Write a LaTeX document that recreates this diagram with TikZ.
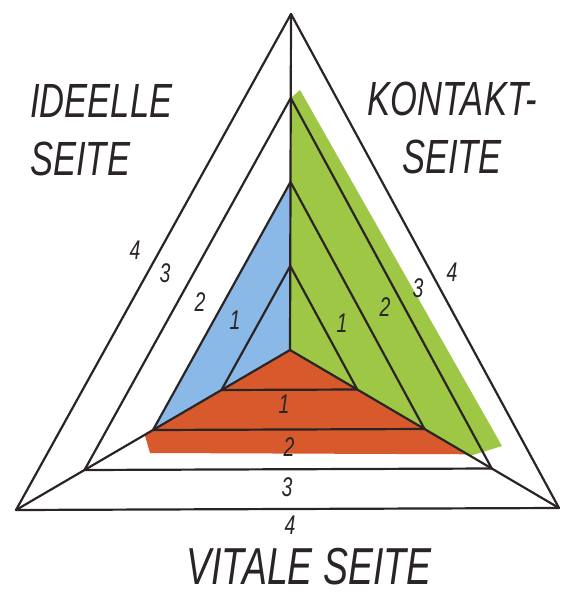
\documentclass[tikz,border=0pt]{standalone}
\usepackage{fontspec}
\newfontfamily\handfont[FakeStretch=0.72]{Liberation Sans}
\usetikzlibrary{calc}
\definecolor{seiteblue}{HTML}{8AB8E7}
\definecolor{seitegreen}{HTML}{9DC745}
\definecolor{seiteorange}{HTML}{D85A2C}
\definecolor{pencil}{HTML}{2A2424}

\begin{document}
\begin{tikzpicture}[x=1pt, y=-1pt,
    edge/.style={pencil, line width=2.2pt, line cap=round, line join=round},
    num/.style={font=\handfont\itshape\fontsize{27}{27}\selectfont, pencil, inner sep=0pt},
    side/.style={font=\handfont\itshape\fontsize{48}{58}\selectfont, pencil, inner sep=0pt}
  ]
    \useasboundingbox (0,0) rectangle (562,594);

    % corners and centre
    \coordinate (A)  at (291,14);
    \coordinate (BL) at (16,510);
    \coordinate (BR) at (559,508);
    \coordinate (C)  at (290,350);
    \foreach \k/\t in {1/0.25, 2/0.5, 3/0.75} {
      \coordinate (top\k) at ($(C)!\t!(A)$);
      \coordinate (bl\k)  at ($(C)!\t!(BL)$);
      \coordinate (br\k)  at ($(C)!\t!(BR)$);
    }

    % coloured sides
    \fill[seiteblue] (C) -- (top2) -- (bl2) -- cycle;
    \fill[seitegreen] (C) -- (top3) -- (300,90) -- (502,446)
      -- ($(C)!0.67!(BR)$) -- cycle;
    \fill[seiteorange] (C) -- ($(C)!0.53!(BL)$) -- (150,453)
      -- ($(C)!0.66!(BR)$) -- cycle;

    % outer triangle and spokes
    \draw[edge] (A) -- (BL) -- (BR) -- cycle;
    \draw[edge] (C) -- (A);
    \draw[edge] (C) -- (BL);
    \draw[edge] (C) -- (BR);

    % nested levels
    \foreach \k in {1,2,3} {
      \draw[edge] (top\k) -- (bl\k);
      \draw[edge] (top\k) -- (br\k);
      \draw[edge] (bl\k) -- (br\k);
    }

    % level numbers
    \foreach \n/\lx/\ly/\rx/\ry/\bx/\by in {1/235/320/342/323/284/404,
        2/200/302/385/307/289/447, 3/165/273/418/288/287/487,
        4/135/250/452/272/290/525} {
      \node[num] (numL\n) at (\lx,\ly) {\n};
      \node[num] (numR\n) at (\rx,\ry) {\n};
      \node[num] (numB\n) at (\bx,\by) {\n};
    }

    % side names
    \node[side, align=left, anchor=north west] (ideell) at (30,84)
      {IDEELLE\\SEITE};
    \node[side, align=center, anchor=north] (kontakt) at (452,82)
      {KONTAKT-\\SEITE};
    \node[side, font=\handfont\itshape\fontsize{52}{58}\selectfont,
          anchor=base] (vital) at (309,584) {VITALE SEITE};
\end{tikzpicture}
\end{document}
